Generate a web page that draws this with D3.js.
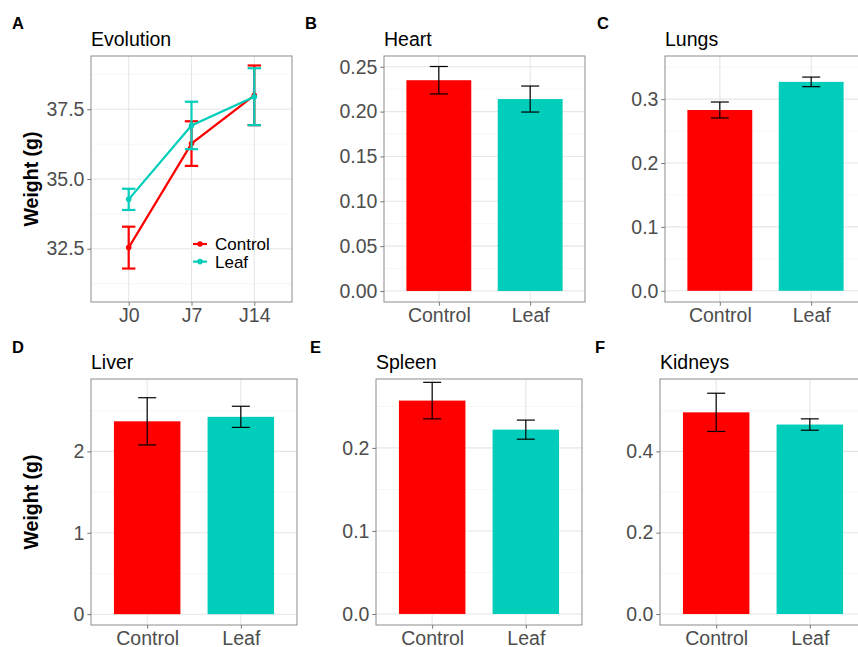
<!DOCTYPE html>
<html>
<head>
<meta charset="utf-8">
<script src="https://cdn.jsdelivr.net/npm/d3@7"></script>
<style>
  body { margin: 0; background: #fff; }
  text { font-family: "Liberation Sans", Arial, sans-serif; }
</style>
</head>
<body>
<svg id="fig" width="858" height="647"></svg>
<script>
// ---- data ----
const groups = ["Control", "Leaf"];
const days = ["J0", "J7", "J14"];
const evoControlMean = [32.54, 36.27, 38.0];
const evoControlErr  = [0.75, 0.8, 1.07];
const evoLeafMean    = [34.27, 36.92, 37.95];
const evoLeafErr     = [0.38, 0.85, 1.02];

const organs = ["Heart", "Lungs", "Liver", "Spleen", "Kidneys"];
const organControlMean = [0.235, 0.283, 2.37, 0.257, 0.496];
const organControlErr  = [0.0153, 0.0125, 0.29, 0.022, 0.047];
const organLeafMean    = [0.214, 0.327, 2.425, 0.222, 0.466];
const organLeafErr     = [0.0145, 0.0075, 0.13, 0.0115, 0.014];

const evoTicks     = [32.5, 35.0, 37.5];
const heartTicks   = [0, 0.05, 0.10, 0.15, 0.20, 0.25];
const lungsTicks   = [0, 0.1, 0.2, 0.3];
const liverTicks   = [0, 1, 2];
const spleenTicks  = [0, 0.1, 0.2];
const kidneysTicks = [0, 0.2, 0.4];

// ---- look ----
const colors = { Control: "#ff0000", Leaf: "#00cdba" };
const gridMajor = "#e6e6e6", gridMinor = "#f1f1f1";
const borderCol = "#8c8c8c", tickCol = "#777", tickText = "#4d4d4d";
const fs = 19.5;

const svg = d3.select("#fig");

// panel boxes: position / size / y-range shown
const panels = [
  { key: "A", name: "Evolution", x: 91,  y: 56,  w: 201, h: 246, dom: [30.59, 39.41], ticks: evoTicks,     fmt: ".1f", lx: 12,  ly: 29, ylab: true },
  { key: "B", name: "Heart",     x: 384, y: 56,  w: 201, h: 246, dom: [-0.0123, 0.262], ticks: heartTicks, fmt: ".2f", lx: 305, ly: 29 },
  { key: "C", name: "Lungs",     x: 665, y: 56,  w: 201, h: 246, dom: [-0.0175, 0.3675], ticks: lungsTicks, fmt: ".1f", lx: 597, ly: 29 },
  { key: "D", name: "Liver",     x: 91,  y: 379, w: 206, h: 246, dom: [-0.133, 2.89], ticks: liverTicks,   fmt: "d",   lx: 12,  ly: 353, ylab: true },
  { key: "E", name: "Spleen",    x: 376, y: 379, w: 206, h: 246, dom: [-0.0133, 0.283], ticks: spleenTicks, fmt: ".1f", lx: 310, ly: 353 },
  { key: "F", name: "Kidneys",   x: 660, y: 379, w: 206, h: 246, dom: [-0.027, 0.578], ticks: kidneysTicks, fmt: ".1f", lx: 595, ly: 353 }
];

function minorTicks(ticks, dom) {
  const step = ticks[1] - ticks[0];
  const out = [];
  for (let v = ticks[0] - step / 2; v <= dom[1]; v += step) {
    if (v >= dom[0]) out.push(v);
  }
  return out;
}

function drawFrame(p, cats) {
  const g = svg.append("g").attr("transform", `translate(${p.x},${p.y})`);
  const y = d3.scaleLinear().domain(p.dom).range([p.h, 0]);
  const x = d3.scalePoint().domain(cats).range([0, p.w]).padding(0.6);

  g.append("rect").attr("width", p.w).attr("height", p.h).attr("fill", "#fff");

  g.selectAll(".minor").data(minorTicks(p.ticks, p.dom)).enter()
    .append("line")
    .attr("x1", 0).attr("x2", p.w)
    .attr("y1", d => y(d)).attr("y2", d => y(d))
    .attr("stroke", gridMinor).attr("stroke-width", 0.6);

  g.selectAll(".majorY").data(p.ticks).enter()
    .append("line")
    .attr("x1", 0).attr("x2", p.w)
    .attr("y1", d => y(d)).attr("y2", d => y(d))
    .attr("stroke", gridMajor).attr("stroke-width", 1.1);

  g.selectAll(".majorX").data(cats).enter()
    .append("line")
    .attr("x1", d => x(d)).attr("x2", d => x(d))
    .attr("y1", 0).attr("y2", p.h)
    .attr("stroke", gridMajor).attr("stroke-width", 1.1);

  // title and panel letter
  svg.append("text")
    .attr("x", p.x).attr("y", p.y - 10)
    .attr("font-size", fs).attr("fill", "#000")
    .text(p.name);
  svg.append("text")
    .attr("x", p.lx).attr("y", p.ly)
    .attr("font-size", 16.5).attr("font-weight", "bold")
    .text(p.key);

  if (p.ylab) {
    svg.append("text")
      .attr("transform", `translate(38,${p.y + p.h / 2}) rotate(-90)`)
      .attr("text-anchor", "middle")
      .attr("font-size", fs).attr("font-weight", "bold")
      .text("Weight (g)");
  }
  return { g, x, y };
}

function finishFrame(p, g, x, y) {
  g.append("rect").attr("width", p.w).attr("height", p.h)
    .attr("fill", "none").attr("stroke", borderCol).attr("stroke-width", 1);

  const ya = g.append("g")
    .call(d3.axisLeft(y).tickValues(p.ticks).tickFormat(d3.format(p.fmt))
      .tickSize(3.7).tickPadding(2.9));
  const xa = g.append("g").attr("transform", `translate(0,${p.h})`)
    .call(d3.axisBottom(x).tickSize(3.7).tickPadding(2.9));

  [ya, xa].forEach(a => {
    a.select(".domain").remove();
    a.selectAll(".tick line").attr("stroke", tickCol);
    a.selectAll(".tick text")
      .attr("font-size", fs).attr("fill", tickText)
      .attr("font-family", "Liberation Sans, Arial, sans-serif");
  });
}

// ---- panel A: evolution ----
(function () {
  const p = panels[0];
  const { g, x, y } = drawFrame(p, days);
  const series = [
    { name: "Control", mean: evoControlMean, err: evoControlErr },
    { name: "Leaf", mean: evoLeafMean, err: evoLeafErr }
  ];
  const line = d3.line().x(d => x(d.day)).y(d => y(d.m));
  const cap = 6.7;

  series.forEach(s => {
    const pts = days.map((d, i) => ({ day: d, m: s.mean[i], e: s.err[i] }));
    const col = colors[s.name];
    g.append("path").datum(pts)
      .attr("d", line).attr("fill", "none")
      .attr("stroke", col).attr("stroke-width", 2.2);

    const eb = g.selectAll(null).data(pts).enter().append("g").attr("stroke", col).attr("stroke-width", 2.2);
    eb.append("line")
      .attr("x1", d => x(d.day)).attr("x2", d => x(d.day))
      .attr("y1", d => y(d.m - d.e)).attr("y2", d => y(d.m + d.e));
    eb.append("line")
      .attr("x1", d => x(d.day) - cap).attr("x2", d => x(d.day) + cap)
      .attr("y1", d => y(d.m - d.e)).attr("y2", d => y(d.m - d.e));
    eb.append("line")
      .attr("x1", d => x(d.day) - cap).attr("x2", d => x(d.day) + cap)
      .attr("y1", d => y(d.m + d.e)).attr("y2", d => y(d.m + d.e));

    g.selectAll(null).data(pts).enter().append("circle")
      .attr("cx", d => x(d.day)).attr("cy", d => y(d.m))
      .attr("r", 2.8).attr("fill", col);
  });

  // legend inside the panel
  const leg = g.append("g").attr("transform", "translate(102,188)");
  groups.forEach((name, i) => {
    const row = leg.append("g").attr("transform", `translate(0,${i * 17.6})`);
    row.append("line").attr("x1", 0).attr("x2", 14).attr("y1", 0).attr("y2", 0)
      .attr("stroke", colors[name]).attr("stroke-width", 2.2);
    row.append("circle").attr("cx", 7).attr("cy", 0).attr("r", 2.8).attr("fill", colors[name]);
    row.append("text").attr("x", 22).attr("y", 0).attr("dy", "0.35em")
      .attr("font-size", 17).attr("fill", "#000").text(name);
  });

  finishFrame(p, g, x, y);
})();

// ---- panels B-F: organ bars ----
organs.forEach((organ, k) => {
  const p = panels[k + 1];
  const { g, x, y } = drawFrame(p, groups);
  const rows = groups.map(gr => ({
    group: gr,
    m: gr === "Control" ? organControlMean[k] : organLeafMean[k],
    e: gr === "Control" ? organControlErr[k] : organLeafErr[k]
  }));
  const bw = x.step() * 0.71;
  const cap = 9;

  g.selectAll(".bar").data(rows).enter().append("rect")
    .attr("x", d => x(d.group) - bw / 2)
    .attr("y", d => y(d.m))
    .attr("width", bw)
    .attr("height", d => y(0) - y(d.m))
    .attr("fill", d => colors[d.group]);

  const eb = g.selectAll(".err").data(rows).enter().append("g")
    .attr("stroke", "#000").attr("stroke-width", 1.2);
  eb.append("line")
    .attr("x1", d => x(d.group)).attr("x2", d => x(d.group))
    .attr("y1", d => y(d.m - d.e)).attr("y2", d => y(d.m + d.e));
  eb.append("line")
    .attr("x1", d => x(d.group) - cap).attr("x2", d => x(d.group) + cap)
    .attr("y1", d => y(d.m - d.e)).attr("y2", d => y(d.m - d.e));
  eb.append("line")
    .attr("x1", d => x(d.group) - cap).attr("x2", d => x(d.group) + cap)
    .attr("y1", d => y(d.m + d.e)).attr("y2", d => y(d.m + d.e));

  finishFrame(p, g, x, y);
});
</script>
</body>
</html>
